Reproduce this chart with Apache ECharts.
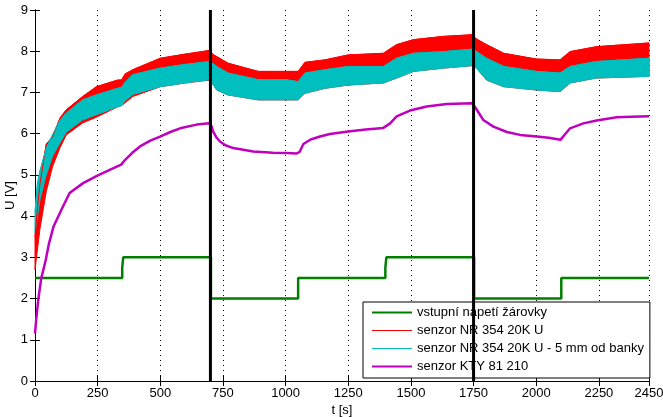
<!DOCTYPE html>
<html>
<head>
<meta charset="utf-8">
<script src="https://cdn.jsdelivr.net/npm/echarts@6/dist/echarts.min.js"></script>
<style>html,body{margin:0;padding:0;background:#fff}#c{width:663px;height:417px}</style>
</head>
<body>
<div id="c"></div>
<script>
// ---- data ----
const seriesNames = ['vstupní napetí žárovky', 'senzor NR 354 20K U', 'senzor NR 354 20K U - 5 mm od banky', 'senzor KTY 81 210'];

// input voltage (step signal)
const greenT = [0, 348, 348, 352, 352, 702, 702, 1050, 1050, 1398, 1398, 1402, 1402, 1752, 1752, 2100, 2100, 2450];
const greenV = [2.5, 2.5, 2.75, 2.75, 3, 3, 2, 2, 2.5, 2.5, 2.75, 2.75, 3, 3, 2, 2, 2.5, 2.5];

// noisy sensors: envelope (lower / upper) of the noise band
const bandT  = [0, 10, 20, 45, 70, 100, 125, 190, 245, 330, 345, 360, 390, 500, 600, 698, 710, 725, 770, 890, 1000, 1050, 1077, 1157, 1250, 1390, 1443, 1510, 1630, 1745, 1760, 1802, 1870, 2000, 2095, 2135, 2240, 2450];
const redLo  = [2.7, 3.2, 3.7, 4.6, 5.2, 5.66, 5.97, 6.26, 6.4, 6.65, 6.68, 6.75, 6.9, 7.14, 7.23, 7.3, 7.2, 7.06, 6.94, 6.82, 6.82, 6.82, 6.98, 7.1, 7.18, 7.23, 7.35, 7.51, 7.59, 7.65, 7.6, 7.3, 7.14, 7.06, 7.02, 7.23, 7.35, 7.39];
const redHi  = [3.5, 4.2, 4.8, 5.75, 5.92, 6.38, 6.58, 6.9, 7.14, 7.3, 7.3, 7.45, 7.55, 7.83, 7.93, 8.02, 7.92, 7.87, 7.71, 7.51, 7.51, 7.51, 7.73, 7.79, 7.91, 7.95, 8.16, 8.28, 8.36, 8.4, 8.3, 8.16, 7.95, 7.81, 7.79, 7.99, 8.11, 8.2];
const cyanLo = [3.6, 4.0, 4.4, 5.0, 5.45, 5.78, 6.04, 6.33, 6.46, 6.65, 6.68, 6.8, 6.95, 7.14, 7.23, 7.31, 7.2, 7.06, 6.94, 6.82, 6.82, 6.82, 6.98, 7.1, 7.18, 7.23, 7.35, 7.51, 7.59, 7.65, 7.6, 7.3, 7.14, 7.06, 7.02, 7.23, 7.35, 7.39];
const cyanHi = [4.1, 4.8, 5.1, 5.65, 5.97, 6.33, 6.5, 6.82, 6.94, 7.1, 7.12, 7.25, 7.43, 7.59, 7.68, 7.75, 7.7, 7.63, 7.47, 7.31, 7.31, 7.26, 7.47, 7.55, 7.63, 7.63, 7.83, 7.95, 7.99, 8.05, 8.0, 7.83, 7.63, 7.51, 7.47, 7.63, 7.75, 7.83];

// KTY sensor
const ktyT = [0, 5, 13, 25, 43, 56, 74, 105, 138, 192, 245, 298, 344, 359, 387, 419, 460, 499, 540, 579, 645, 695, 703, 711, 725, 738, 760, 791, 871, 950, 1004, 1044, 1055, 1071, 1100, 1137, 1177, 1250, 1320, 1390, 1417, 1443, 1496, 1563, 1643, 1745, 1752, 1763, 1789, 1829, 1883, 1935, 2002, 2050, 2097, 2110, 2135, 2188, 2241, 2321, 2380, 2450];
const ktyV = [1.15, 1.5, 1.97, 2.49, 2.94, 3.34, 3.75, 4.15, 4.56, 4.80, 4.97, 5.12, 5.25, 5.36, 5.53, 5.69, 5.83, 5.93, 6.04, 6.13, 6.22, 6.25, 6.2, 6.05, 5.9, 5.81, 5.72, 5.65, 5.57, 5.54, 5.53, 5.52, 5.55, 5.75, 5.86, 5.93, 5.99, 6.05, 6.1, 6.14, 6.25, 6.42, 6.56, 6.66, 6.72, 6.74, 6.7, 6.58, 6.33, 6.17, 6.04, 5.97, 5.93, 5.9, 5.85, 5.95, 6.13, 6.25, 6.32, 6.4, 6.41, 6.42];

// vertical marker lines
const markerT = [700, 1750];
const yRange = [0, 9];
const xRange = [0, 2450];

// ---- build ----
const zip = (a, b) => a.map((v, i) => [v, b[i]]);
const FONT = 'Liberation Sans, Arial, sans-serif';
const COLORS = ['#007f00', '#ff0000', '#00bfbf', '#bf00bf'];
const LEGEND_W = [2, 1.2, 1.2, 2];

function bandSeries(color, lo, hi) {
  return {
    name: 'band' + color, type: 'custom', z: 2,
    data: bandT.map((t, i) => [t, lo[i], hi[i]]),
    encode: { x: 0, y: [1, 2] },
    renderItem: function (params, api) {
      if (params.dataIndex !== 0) return null;
      const pts = [];
      for (let i = 0; i < bandT.length; i++) pts.push(api.coord([bandT[i], hi[i]]));
      for (let i = bandT.length - 1; i >= 0; i--) pts.push(api.coord([bandT[i], lo[i]]));
      return { type: 'polygon', shape: { points: pts },
        style: { fill: color, stroke: color, lineWidth: 1 } };
    }
  };
}
// upper edge of each band as a plain line (also carries the legend sample)
function edgeSeries(name, color, hi) {
  return { name: name, type: 'line', data: zip(bandT, hi), symbol: 'none', z: 2,
    color: color, lineStyle: { color: color, width: 1 }, itemStyle: { color: color } };
}

const series = [
  { name: seriesNames[0], type: 'line', data: zip(greenT, greenV), symbol: 'none', z: 2,
    color: COLORS[0], lineStyle: { color: COLORS[0], width: 2.5 }, itemStyle: { color: COLORS[0] } },
  bandSeries(COLORS[1], redLo, redHi),
  edgeSeries(seriesNames[1], COLORS[1], redHi),
  bandSeries(COLORS[2], cyanLo, cyanHi),
  edgeSeries(seriesNames[2], COLORS[2], cyanHi),
  { name: seriesNames[3], type: 'line', data: zip(ktyT, ktyV), symbol: 'none', z: 3,
    color: COLORS[3], lineStyle: { color: COLORS[3], width: 2.5 }, itemStyle: { color: COLORS[3] } }
];
markerT.forEach(t => series.push({
  name: 'marker' + t, type: 'line', symbol: 'none', data: [[t, yRange[0]], [t, yRange[1]]],
  lineStyle: { color: '#000', width: 3 }, z: 5
}));

const axisCommon = {
  axisLine: { show: true, lineStyle: { color: '#000', width: 1 } },
  axisTick: { show: true, inside: true, length: 5, lineStyle: { color: '#000' } }
};
const labelStyle = { fontFamily: FONT, fontSize: 13, color: '#000' };

const chart = echarts.init(document.getElementById('c'), null, { renderer: 'canvas' });
chart.setOption({
  animation: false,
  backgroundColor: '#fff',
  grid: { left: 35, right: 14, top: 10, bottom: 36, containLabel: false, outerBoundsMode: 'none' },
  legend: {
    data: seriesNames.map((n, i) => ({ name: n, lineStyle: { width: LEGEND_W[i], color: COLORS[i] } })),
    orient: 'vertical', left: 363, top: 302,
    itemWidth: 40, itemHeight: 14, itemGap: 5, padding: [4, 6, 5, 8],
    borderColor: '#000', borderWidth: 1, borderRadius: 0, backgroundColor: '#fff',
    selectedMode: false,
    itemStyle: { opacity: 0 },
    textStyle: labelStyle
  },
  xAxis: [
    Object.assign({ type: 'value', min: xRange[0], max: xRange[1], interval: 250, position: 'bottom',
      name: 't [s]', nameLocation: 'middle', nameGap: 23, nameMoveOverlap: false, nameTextStyle: labelStyle,
      axisLabel: Object.assign({ margin: 6, showMaxLabel: true, formatter: v => String(v) }, labelStyle),
      splitLine: { show: true, lineStyle: { color: '#000', width: 1, type: [1, 4] } } }, axisCommon),
    Object.assign({ type: 'value', min: xRange[0], max: xRange[1], interval: 250, position: 'top',
      axisLabel: { show: false }, splitLine: { show: false } }, axisCommon)
  ],
  yAxis: [
    Object.assign({ type: 'value', min: yRange[0], max: yRange[1], interval: 1, position: 'left',
      name: 'U [V]', nameLocation: 'middle', nameGap: 18, nameMoveOverlap: false, nameTextStyle: labelStyle,
      axisLabel: Object.assign({ margin: 7 }, labelStyle),
      splitLine: { show: false } }, axisCommon),
    Object.assign({ type: 'value', min: yRange[0], max: yRange[1], interval: 1, position: 'right',
      axisLabel: { show: false }, splitLine: { show: false } }, axisCommon)
  ],
  series: series
});
</script>
</body>
</html>
